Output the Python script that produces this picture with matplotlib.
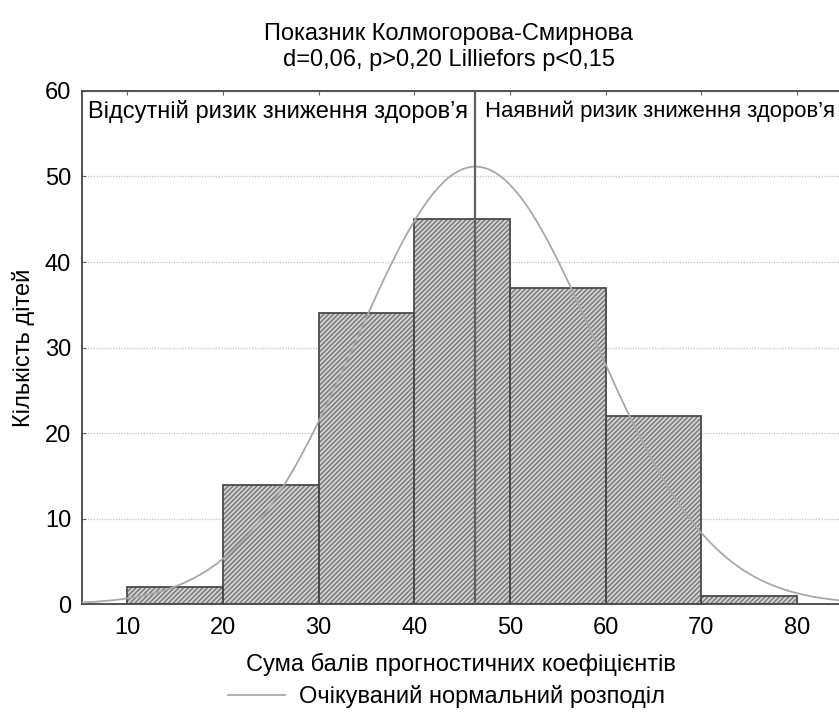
import numpy as np
import matplotlib
matplotlib.use("Agg")
from matplotlib import pyplot as plt

# histogram data
bin_left = [10, 20, 30, 40, 50, 60, 70]
counts = [2, 14, 34, 45, 37, 22, 1]
bin_width = 10

# expected normal distribution parameters
n_total = 159
mean = 46.4
sd = 12.4
cut_point = 46.4

title = "Показник Колмогорова-Смирнова\nd=0,06, p>0,20 Lilliefors p<0,15"
left_label = "Відсутній ризик зниження здоров’я"
right_label = "Наявний ризик зниження здоров’я"

plt.rcParams['font.family'] = ['Liberation Sans', 'DejaVu Sans']
plt.rcParams['hatch.linewidth'] = 1.1
plt.rcParams['hatch.color'] = '#7a7a7a'

fs = 17

fig = plt.figure(figsize=(8.39, 7.16), dpi=100)
ax = fig.add_axes([0.098, 0.156, 0.902, 0.717])

# hatched bar fill, then outlines
ax.bar(bin_left, counts, width=bin_width, align='edge', color='#d4d4d4',
       edgecolor='#7a7a7a', hatch='///////', linewidth=0, zorder=2)
ax.bar(bin_left, counts, width=bin_width, align='edge', fill=False,
       edgecolor='#4a4a4a', linewidth=1.3, zorder=3)

# expected normal curve
xs = np.linspace(5, 85, 400)
ys = n_total * bin_width / (sd * np.sqrt(2 * np.pi)) * np.exp(-(xs - mean) ** 2 / (2 * sd ** 2))
curve, = ax.plot(xs, ys, color='#a8a8a8', linewidth=1.3, zorder=4)

# risk cut-off line
ax.axvline(cut_point, color='#606060', linewidth=1.6, zorder=5)

ax.text(5.9, 58.9, left_label, fontsize=fs, va='top', ha='left', zorder=6)
ax.text(cut_point + 1.0, 58.9, right_label, fontsize=15.9, va='top', ha='left', zorder=6)

ax.set_xlim(5.3, 84.4)
ax.set_ylim(0, 60)
ax.set_xticks([10, 20, 30, 40, 50, 60, 70, 80])
ax.set_yticks([0, 10, 20, 30, 40, 50, 60])
ax.tick_params(axis='both', labelsize=fs, direction='in', length=3,
               color='#606060', top=True, right=False)
ax.tick_params(axis='x', pad=9)
ax.tick_params(axis='y', pad=8)
ax.yaxis.grid(True, linestyle=(0, (1, 1)), color='#c8c8c8', linewidth=1.0, zorder=0)
ax.set_axisbelow(True)
for s in ['left', 'top', 'bottom']:
    ax.spines[s].set_color('#444444')
    ax.spines[s].set_linewidth(1.3)
ax.spines['right'].set_visible(False)

ax.set_ylabel("Кількість дітей", fontsize=fs, labelpad=7)
ax.set_xlabel("Сума балів прогностичних коефіцієнтів", fontsize=fs, labelpad=10)
fig.suptitle(title, fontsize=fs, x=0.535, y=0.968, linespacing=1.25)

fig.legend([curve], ["Очікуваний нормальний розподіл"], loc='center',
           bbox_to_anchor=(0.532, 0.027), frameon=False, fontsize=fs,
           handlelength=2.4, handletextpad=0.6)

plt.savefig('out.png', dpi=100)
